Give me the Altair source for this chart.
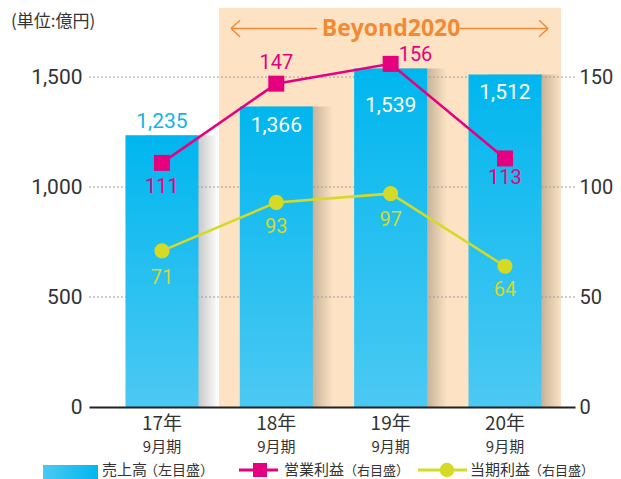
import altair as alt
import pandas as pd

# ---- data ----
categories = ["17年", "18年", "19年", "20年"]
period_labels = ["9月期", "9月期", "9月期", "9月期"]
sales = [1235, 1366, 1539, 1512]            # 売上高 (左目盛, 億円)
operating_profit = [111, 147, 156, 113]     # 営業利益 (右目盛)
net_profit = [71, 93, 97, 64]               # 当期利益 (右目盛)
left_ticks = [0, 500, 1000, 1500]
right_ticks = [0, 50, 100, 150]
grid_values = [500, 1000, 1500]

df = pd.DataFrame({"cat": categories, "period": period_labels, "sales": sales,
                   "op": operating_profit, "net": net_profit})
grid_df = pd.DataFrame({"v": grid_values})
one = pd.DataFrame({"k": [0]})

# ---- style ----
JP = "Noto Sans CJK JP"
NUM = "Roboto"
PINK = "#E5007F"
YELLOW = "#D4DA26"
CYAN = "#12B4EA"
ORANGE = "#F18A33"
BAND_BG = "#FDE3C3"
TEXT = "#333333"

W, H = 486, 399
left_scale = alt.Scale(domain=[0, 1814], nice=False, zero=True)
right_scale = alt.Scale(domain=[0, 181.4], nice=False, zero=True)
x_scale = alt.Scale(domain=categories, paddingInner=0.3615, paddingOuter=0.306, align=0.521)

x_axis = alt.Axis(labels=False, ticks=False, title=None, grid=False,
                  domain=True, domainColor="#222222", domainWidth=2.2, zindex=1)
left_axis = alt.Axis(values=left_ticks, format=",.0f", orient="left", ticks=False, domain=False,
                     grid=False, labelFont=NUM, labelFontSize=21, labelColor=TEXT,
                     labelPadding=7, title=None)
right_axis = alt.Axis(values=right_ticks, format=".0f", orient="right", ticks=False, domain=False,
                      grid=False, labelFont=NUM, labelFontSize=20, labelColor=TEXT,
                      labelPadding=4, title=None)

X = alt.X("cat:N", scale=x_scale, sort=categories, axis=x_axis)


def YL(field):
    return alt.Y(field, scale=left_scale, axis=left_axis)


def YR(field):
    return alt.Y(field, scale=right_scale, axis=right_axis)


bar_gradient = alt.LinearGradient(
    gradient="linear", x1=0, x2=0, y1=0, y2=1,
    stops=[alt.GradientStop(color="#00B6EE", offset=0),
           alt.GradientStop(color="#4CC9F3", offset=1)])
shadow_gradient = alt.LinearGradient(
    gradient="linear", x1=0, x2=1, y1=0, y2=0,
    stops=[alt.GradientStop(color="rgba(0,0,0,0.22)", offset=0.72),
           alt.GradientStop(color="rgba(0,0,0,0)", offset=1)])
legend_gradient = alt.LinearGradient(
    gradient="linear", x1=0, x2=1, y1=0, y2=0,
    stops=[alt.GradientStop(color="#4CC9F3", offset=0),
           alt.GradientStop(color="#00B6EE", offset=1)])

# label offsets (layout, not data)
bar_label_style = {"17年": (-13, CYAN), "18年": (19, "white"), "19年": (38, "white"), "20年": (19, "white")}
op_label_style = {"17年": (0, 24, "center"), "18年": (0, -21, "center"), "19年": (8, -9, "left"), "20年": (0, 20, "center")}
net_label_style = {"17年": 27, "18年": 25, "19年": 26, "20年": 24}

# ---- left-scale layer ----
band = alt.Chart(one).mark_rect(color=BAND_BG).encode(
    x=alt.value(130), x2=alt.value(472), y=alt.value(0), y2=alt.value(H))

shadows = alt.Chart(df).mark_bar(color=shadow_gradient, xOffset=20).encode(x=X, y=YL("sales:Q"))

grid = alt.Chart(grid_df).mark_rule(color="#9C9C9C", strokeDash=[2, 2], strokeWidth=1).encode(
    y=YL("v:Q"))

bars = alt.Chart(df).mark_bar(color=bar_gradient).encode(x=X, y=YL("sales:Q"))

bar_labels = []
for cat, (dy, col) in bar_label_style.items():
    bar_labels.append(
        alt.Chart(df).transform_filter(alt.datum.cat == cat).mark_text(
            font=NUM, fontSize=21, color=col, dy=dy, baseline="middle").encode(
            x=X, y=YL("sales:Q"), text=alt.Text("sales:Q", format=",")))

x_lab1 = alt.Chart(df).mark_text(font=JP, fontSize=19, color=TEXT, baseline="middle").encode(
    x=X, y=alt.value(416), text="cat:N")
x_lab2 = alt.Chart(df).mark_text(font=JP, fontSize=15, color=TEXT, baseline="middle").encode(
    x=X, y=alt.value(438.5), text="period:N")

left_layer = alt.layer(band, shadows, grid, bars, *bar_labels, x_lab1, x_lab2)

# ---- right-scale layer ----
op_line = alt.Chart(df).mark_line(color=PINK, strokeWidth=2.5).encode(x=X, y=YR("op:Q"))
op_pts = alt.Chart(df).mark_point(shape="square", filled=True, size=256, color=PINK, opacity=1).encode(
    x=X, y=YR("op:Q"))
net_line = alt.Chart(df).mark_line(color=YELLOW, strokeWidth=2.5).encode(x=X, y=YR("net:Q"))
net_pts = alt.Chart(df).mark_point(shape="circle", filled=True, size=230, color=YELLOW, opacity=1).encode(
    x=X, y=YR("net:Q"))

line_labels = []
for cat, (dx, dy, al) in op_label_style.items():
    line_labels.append(
        alt.Chart(df).transform_filter(alt.datum.cat == cat).mark_text(
            font=NUM, fontSize=20, color=PINK, dx=dx, dy=dy, align=al, baseline="middle").encode(
            x=X, y=YR("op:Q"), text="op:Q"))
for cat, dy in net_label_style.items():
    line_labels.append(
        alt.Chart(df).transform_filter(alt.datum.cat == cat).mark_text(
            font=NUM, fontSize=20, color=YELLOW, dy=dy, baseline="middle").encode(
            x=X, y=YR("net:Q"), text="net:Q"))


# ---- annotations ----
def seg(x1, y1, x2, y2, color=ORANGE, width=1.5):
    return alt.Chart(one).mark_rule(color=color, strokeWidth=width).encode(
        x=alt.value(x1), y=alt.value(y1), x2=alt.value(x2), y2=alt.value(y2))


arrows = [
    seg(142, 20.5, 228, 20.5), seg(142, 20.5, 151, 12.2), seg(142, 20.5, 151, 28.8),
    seg(371, 20.5, 459, 20.5), seg(459, 20.5, 450, 12.2), seg(459, 20.5, 450, 28.8),
]
beyond = alt.Chart(one).mark_text(text="Beyond2020", font="Open Sans", fontSize=23, fontWeight="bold",
                                  color=ORANGE, baseline="middle").encode(
    x=alt.value(302), y=alt.value(21))
unit = alt.Chart(one).mark_text(text="(単位:億円)", font=JP, fontSize=17, color=TEXT,
                                align="left", baseline="middle").encode(
    x=alt.value(-78), y=alt.value(14))

# ---- legend ----
LY = 462


def legend_text(txt, x, size, dy=0):
    return alt.Chart(one).mark_text(text=txt, font=JP, fontSize=size, color=TEXT, align="left",
                                    baseline="middle").encode(x=alt.value(x), y=alt.value(LY + dy))


leg = [
    alt.Chart(one).mark_rect(color=legend_gradient).encode(
        x=alt.value(-46), x2=alt.value(9), y=alt.value(LY - 5), y2=alt.value(LY + 9)),
    legend_text("売上高", 13, 15),
    legend_text("（左目盛）", 55, 14, 1),
    seg(150, LY, 189, LY, color=PINK, width=3),
    alt.Chart(one).mark_point(shape="square", filled=True, size=196, color=PINK, opacity=1).encode(
        x=alt.value(171), y=alt.value(LY)),
    legend_text("営業利益", 195, 15),
    legend_text("（右目盛）", 255, 13, 1),
    seg(329, LY, 378, LY, color=YELLOW, width=3),
    alt.Chart(one).mark_point(shape="circle", filled=True, size=210, color=YELLOW, opacity=1).encode(
        x=alt.value(358), y=alt.value(LY)),
    legend_text("当期利益", 381, 15),
    legend_text("（右目盛）", 440, 13, 1),
]

right_layer = alt.layer(op_line, net_line, op_pts, net_pts, *line_labels, *arrows, beyond, unit, *leg)

chart = alt.layer(left_layer, right_layer).resolve_scale(y="independent").properties(
    width=W, height=H,
    padding={"left": 81, "top": 0, "right": 38, "bottom": 72},
    autosize=alt.AutoSizeParams(type="none"),
).configure_view(stroke=None)

chart.save("out.html", embed_options={"renderer": "svg", "actions": False})
